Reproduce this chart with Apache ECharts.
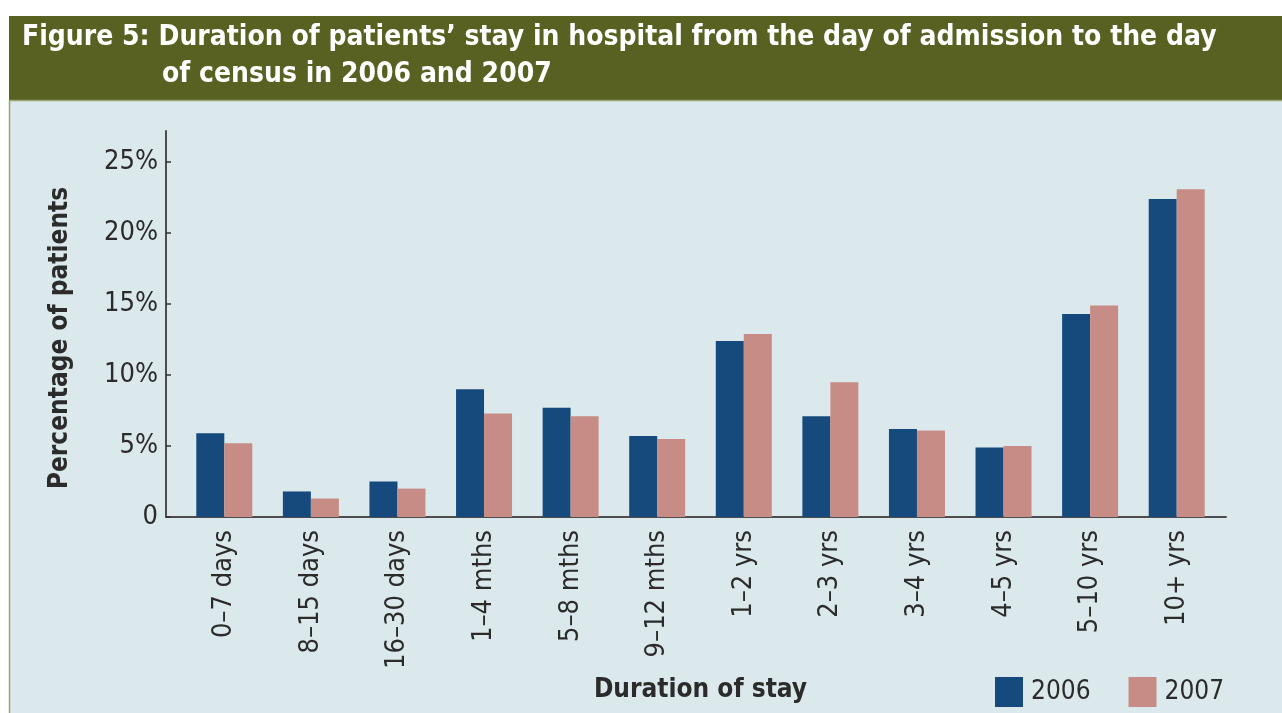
<!DOCTYPE html>
<html>
<head>
<meta charset="utf-8">
<title>Duration of patients' stay in hospital</title>
<script src="https://cdn.jsdelivr.net/npm/echarts@6/dist/echarts.min.js"></script>
<style>
    html, body { margin: 0; padding: 0; background: #fff; }
    #main-chart { width: 1282px; height: 713px; }
</style>
</head>
<body>
<div id="main-chart"></div>
<script>
const categories = ['0–7 days', '8–15 days', '16–30 days', '1–4 mths', '5–8 mths', '9–12 mths',
    '1–2 yrs', '2–3 yrs', '3–4 yrs', '4–5 yrs', '5–10 yrs', '10+ yrs'];
const values2006 = [5.9, 1.8, 2.5, 9.0, 7.7, 5.7, 12.4, 7.1, 6.2, 4.9, 14.3, 22.4];
const values2007 = [5.2, 1.3, 2.0, 7.3, 7.1, 5.5, 12.9, 9.5, 6.1, 5.0, 14.9, 23.1];
const yTicks = [0, 5, 10, 15, 20, 25];
const yMax = 27.2;

const narrow = "'Liberation Sans Narrow', 'DejaVu Sans Condensed', sans-serif";
const blueCor = '#164a7c';
const rosaCor = '#c78c85';
const textCor = '#2b2b2b';

document.addEventListener('DOMContentLoaded', () => {
    const chart = echarts.init(document.getElementById('main-chart'));

    const option = {
        backgroundColor: '#fff',
        animation: false,
        graphic: [
            { type: 'rect', z: -10, shape: { x: 9, y: 16, width: 1280, height: 84 }, style: { fill: '#586121' } },
            { type: 'rect', z: -10, shape: { x: 9.5, y: 100.5, width: 1280, height: 620 },
              style: { fill: '#dbe9ec', stroke: '#9aa372', lineWidth: 1.5 } },
            { type: 'text', x: 60, y: 338, rotation: Math.PI / 2,
              style: { text: 'Percentage of patients', fill: textCor, font: "bold 26px " + narrow,
                       align: 'center', verticalAlign: 'middle' } }
        ],
        title: [
            { text: 'Figure 5: Duration of patients’ stay in hospital from the day of admission to the day',
              left: 22, top: 24, padding: 0,
              textStyle: { color: '#fff', fontSize: 28, fontWeight: 'bold', fontFamily: narrow } },
            { text: 'of census in 2006 and 2007',
              left: 162, top: 61, padding: 0,
              textStyle: { color: '#fff', fontSize: 28, fontWeight: 'bold', fontFamily: narrow } }
        ],
        legend: {
            data: ['2006', '2007'],
            left: 995, top: 677, padding: 0,
            icon: 'rect', itemWidth: 28, itemHeight: 30, itemGap: 38,
            textStyle: { fontSize: 26, color: textCor, fontFamily: narrow, padding: [0, 0, 0, 3] }
        },
        grid: [
            { left: 166, top: 131, width: 1060, height: 386, outerBoundsMode: 'none' },
            { left: 181, top: 131, width: 1039, height: 386, outerBoundsMode: 'none' }
        ],
        xAxis: [
            { gridIndex: 0, type: 'value', min: 0, max: 1,
              axisLine: { show: true, lineStyle: { color: '#4d4d4d', width: 2 } },
              axisTick: { show: false }, axisLabel: { show: false }, splitLine: { show: false } },
            { gridIndex: 1, type: 'category', data: categories,
              axisLine: { show: false }, axisTick: { show: false },
              axisLabel: { rotate: 90, margin: 13, fontSize: 27, color: textCor, fontFamily: narrow },
              name: 'Duration of stay', nameLocation: 'middle', nameGap: 151,
              nameTextStyle: { fontSize: 26, fontWeight: 'bold', color: textCor, fontFamily: narrow } }
        ],
        yAxis: [
            { gridIndex: 0, type: 'value', min: 0, max: yMax,
              axisLine: { show: true, lineStyle: { color: '#4d4d4d', width: 2 } },
              axisTick: { show: true, inside: true, length: 5, customValues: yTicks,
                          lineStyle: { color: '#333', width: 1.5 } },
              axisLabel: { customValues: yTicks, margin: 8, fontSize: 27, color: textCor, fontFamily: narrow,
                           formatter: v => v === 0 ? '0' : v + '%' },
              splitLine: { show: false } },
            { gridIndex: 1, type: 'value', min: 0, max: yMax, show: false, splitLine: { show: false } }
        ],
        series: [
            { name: '2006', type: 'bar', xAxisIndex: 1, yAxisIndex: 1, data: values2006,
              barWidth: 28, barGap: '0%', itemStyle: { color: blueCor } },
            { name: '2007', type: 'bar', xAxisIndex: 1, yAxisIndex: 1, data: values2007,
              barWidth: 28, barGap: '0%', itemStyle: { color: rosaCor } }
        ]
    };
    chart.setOption(option);
});
</script>
</body>
</html>
